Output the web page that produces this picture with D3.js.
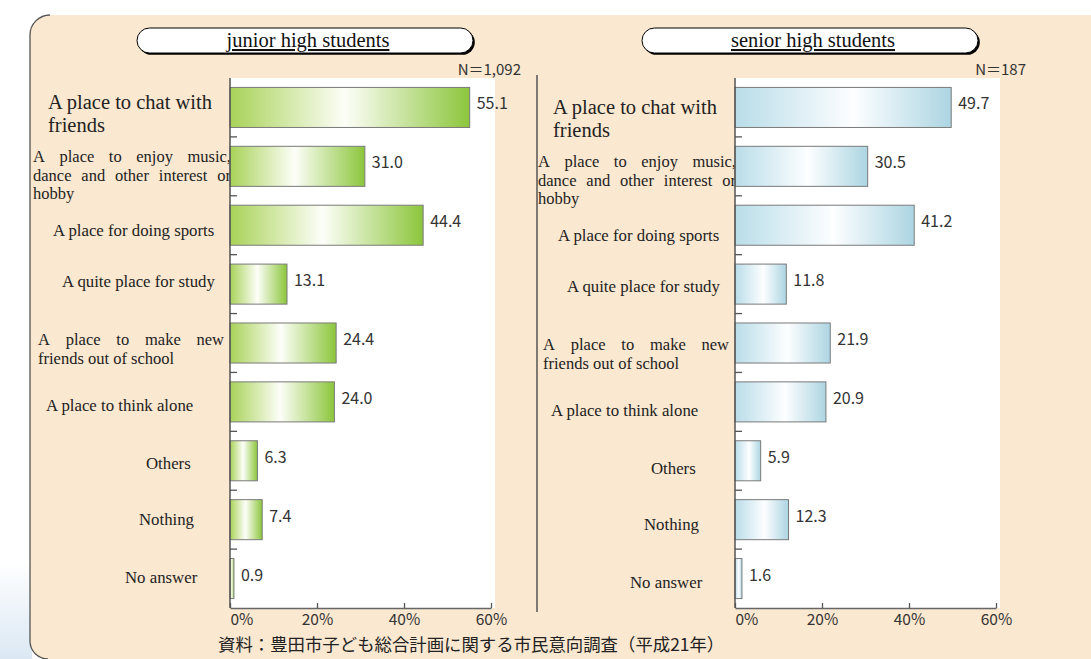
<!DOCTYPE html>
<html>
<head>
<meta charset="utf-8">
<script src="https://cdn.jsdelivr.net/npm/d3@7"></script>
<style>
  body { margin: 0; background: #fff; }
  svg { display: block; }
</style>
</head>
<body>
<svg width="1091" height="659"></svg>
<script>
// ---- data ----
var categories = ["chat", "hobby", "sports", "study", "newFriends", "alone", "others", "nothing", "noAnswer"];
var labelLines = [
  ["A place to chat with", "friends"],
  ["A place to enjoy music,", "dance and other interest or", "hobby"],
  ["A place for doing sports"],
  ["A quite place for study"],
  ["A place to make new", "friends out of school"],
  ["A place to think alone"],
  ["Others"],
  ["Nothing"],
  ["No answer"]
];
var juniorValues = [55.1, 31.0, 44.4, 13.1, 24.4, 24.0, 6.3, 7.4, 0.9];
var seniorValues = [49.7, 30.5, 41.2, 11.8, 21.9, 20.9, 5.9, 12.3, 1.6];
var xTicks = [0, 20, 40, 60];
var titles = ["junior high students", "senior high students"];
var sampleSizes = ["N＝1,092", "N＝187"];
var sourceNote = "資料：豊田市子ども総合計画に関する市民意向調査（平成21年）";

// label placement (offset from axis, font size, justified width, vertical nudge)
var labelLayout = [
  {dx: -182, size: 20.5, just: [], dy: 6},
  {dx: -197, size: 16.5, just: [198, 198], dy: 9},
  {dx: -177, size: 16.8, just: [], dy: 5},
  {dx: -168, size: 16.8, just: [], dy: -3},
  {dx: -192, size: 16.5, just: [186], dy: 6},
  {dx: -184, size: 16.8, just: [], dy: 4},
  {dx: -84, size: 16.8, just: [], dy: 3},
  {dx: -91, size: 16.8, just: [], dy: 0},
  {dx: -105, size: 16.8, just: [], dy: -1}
];

var svg = d3.select("svg"),
    width = +svg.attr("width"),
    height = +svg.attr("height");

var serif = "'Liberation Serif', 'Times New Roman', serif";
var gothic = "'Noto Sans CJK JP', 'Noto Sans', sans-serif";

var defs = svg.append("defs");

function addGradient(id, stops, vertical) {
  var g = defs.append("linearGradient").attr("id", id)
    .attr("x1", "0%").attr("x2", vertical ? "0%" : "100%")
    .attr("y1", "0%").attr("y2", vertical ? "100%" : "0%");
  stops.forEach(function(s) {
    g.append("stop").attr("offset", s[0]).attr("stop-color", s[1])
      .attr("stop-opacity", s[2] == null ? 1 : s[2]);
  });
}
addGradient("greenBar", [["0%", "#a8d258"], ["48%", "#fdfef8"], ["100%", "#8cc63c"]]);
addGradient("blueBar", [["0%", "#b9dde9"], ["55%", "#fdfeff"], ["100%", "#acd5e2"]]);
addGradient("edgeTint", [["0%", "#dbe8f3", 0], ["100%", "#dbe8f3", 1]], true);

// page background
svg.append("rect").attr("width", width).attr("height", height).attr("fill", "#fff");
svg.append("rect").attr("x", 0).attr("y", 560).attr("width", 32).attr("height", 99)
  .attr("fill", "url(#edgeTint)");

// beige panel with rounded left corners
svg.append("path")
  .attr("d", "M" + width + ",15 H50 A20,20 0 0 0 30,35 V641 A18,18 0 0 0 48,659 H" + width + " Z")
  .attr("fill", "#fbe8d0");
svg.append("path")
  .attr("d", "M50,15 A20,20 0 0 0 30,35 V641 A18,18 0 0 0 48,659")
  .attr("fill", "none").attr("stroke", "#555").attr("stroke-width", 1.3);

// divider between panels
svg.append("line").attr("x1", 537).attr("x2", 537).attr("y1", 75).attr("y2", 612)
  .attr("stroke", "#555").attr("stroke-width", 1.5);

var x = d3.scaleLinear().domain([0, 60]).range([0, 261]);
var y = d3.scaleBand().domain(categories).range([78, 608])
  .paddingInner(0.32).paddingOuter(0.16);

function drawJustified(g, words, x0, w, yb, size) {
  var t = g.append("text").style("font-family", serif).attr("font-size", size)
    .attr("fill", "#222").attr("y", yb);
  var spans = words.map(function(wd) { return t.append("tspan").text(wd); });
  var lens = spans.map(function(s) { return s.node().getComputedTextLength(); });
  var gap = (w - d3.sum(lens)) / (words.length - 1);
  var cx = x0;
  spans.forEach(function(s, i) { s.attr("x", cx); cx += lens[i] + gap; });
}

function drawPanel(ax, values, grad, title, nLabel, shiftY) {
  var g = svg.append("g");

  // category labels
  categories.forEach(function(c, i) {
    var lay = labelLayout[i];
    var lines = labelLines[i];
    var lh = lay.size > 19 ? 23 : 18.5;
    var cy = y(c) + y.bandwidth() / 2 + lay.dy + shiftY;
    var top = cy - (lines.length - 1) * lh / 2;
    lines.forEach(function(line, j) {
      var yb = top + j * lh + lay.size * 0.33;
      if (lay.just[j]) {
        drawJustified(g, line.split(" "), ax + lay.dx, lay.just[j], yb, lay.size);
      } else {
        g.append("text").style("font-family", serif).attr("x", ax + lay.dx).attr("y", yb)
          .attr("font-size", lay.size).attr("fill", "#222").text(line);
      }
    });
  });

  // plot background
  g.append("rect").attr("x", ax).attr("y", 78).attr("width", 265).attr("height", 530)
    .attr("fill", "#fff");

  // bars
  g.selectAll(".bar").data(values).enter().append("rect")
    .attr("class", "bar")
    .attr("x", ax)
    .attr("y", function(d, i) { return y(categories[i]); })
    .attr("width", function(d) { return x(d); })
    .attr("height", y.bandwidth())
    .attr("fill", "url(#" + grad + ")")
    .attr("stroke", "#7a7a7a").attr("stroke-width", 1);

  // value labels
  g.selectAll(".val").data(values).enter().append("text")
    .style("font-family", gothic)
    .attr("x", function(d) { return ax + x(d) + 7; })
    .attr("y", function(d, i) { return y(categories[i]) + y.bandwidth() / 2 + 2; })
    .attr("font-size", 16).attr("fill", "#333")
    .text(function(d) { return d.toFixed(1); });

  // category separator ticks
  d3.range(1, categories.length).forEach(function(k) {
    var ty = y.range()[0] + y.step() * k;
    g.append("line").attr("x1", ax).attr("x2", ax + 7).attr("y1", ty).attr("y2", ty)
      .attr("stroke", "#555").attr("stroke-width", 1.3);
  });
  g.append("line").attr("x1", ax).attr("x2", ax).attr("y1", 78).attr("y2", 608)
    .attr("stroke", "#555").attr("stroke-width", 1.5);

  // x axis
  var xa = g.append("g").attr("transform", "translate(" + ax + ",608)")
    .call(d3.axisBottom(x).tickValues(xTicks).tickSize(-5).tickSizeOuter(0)
      .tickPadding(6).tickFormat(function(d) { return d + "%"; }));
  xa.select(".domain").attr("stroke", "#666").attr("stroke-width", 1.5);
  xa.selectAll(".tick line").attr("stroke", "#555").attr("stroke-width", 1.3);
  xa.selectAll(".tick text").style("font-family", gothic)
    .attr("font-size", 15.5).attr("fill", "#333")
    .attr("text-anchor", function(d) { return d === 0 ? "start" : "middle"; });

  // title pill
  var pw = 336, ph = 25, px = ax + 75 - pw / 2, py = 28;
  g.append("rect").attr("x", px + 1.8).attr("y", py + 1.8).attr("width", pw).attr("height", ph)
    .attr("rx", 12.5).attr("fill", "#000");
  g.append("rect").attr("x", px).attr("y", py).attr("width", pw).attr("height", ph)
    .attr("rx", 12.5).attr("fill", "#fff").attr("stroke", "#000").attr("stroke-width", 1);
  g.append("text").style("font-family", serif).attr("x", ax + 78).attr("y", py + 19)
    .attr("text-anchor", "middle").attr("font-size", 20.5)
    .attr("text-decoration", "underline").attr("fill", "#111").text(title);

  // sample size
  g.append("text").style("font-family", gothic).attr("x", ax + 291).attr("y", 75)
    .attr("text-anchor", "end").attr("font-size", 15)
    .attr("fill", "#333").text(nLabel);
}

drawPanel(230, juniorValues, "greenBar", titles[0], sampleSizes[0], 0);
drawPanel(735, seniorValues, "blueBar", titles[1], sampleSizes[1], 5);

svg.append("text").style("font-family", gothic).attr("x", 218).attr("y", 651)
  .attr("font-size", 17.4).attr("fill", "#222")
  .text(sourceNote);
</script>
</body>
</html>
